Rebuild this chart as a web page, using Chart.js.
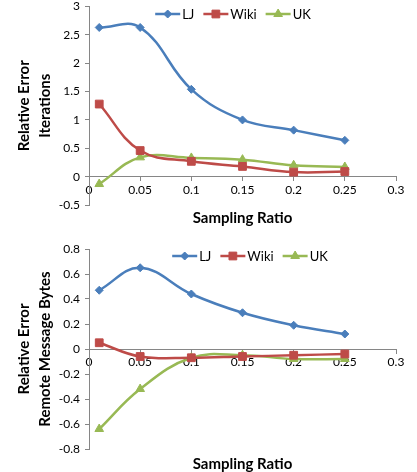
<!DOCTYPE html>
<html><head><meta charset="utf-8">
<script src="https://cdn.jsdelivr.net/npm/chart.js@4.4.1/dist/chart.umd.min.js"></script>
<style>html,body{margin:0;padding:0;background:#fff;} .c{position:relative;width:417px;height:236px;}</style>
</head><body>
<div class="c"><canvas id="c1"></canvas></div>
<div class="c"><canvas id="c2"></canvas></div>
<script>
const samplingRatios = [0.01, 0.05, 0.1, 0.15, 0.2, 0.25];
const seriesNames = ['LJ', 'Wiki', 'UK'];
const iterLJ = [2.63, 2.63, 1.54, 1.00, 0.82, 0.64];
const iterWiki = [1.28, 0.46, 0.27, 0.18, 0.08, 0.09];
const iterUK = [-0.13, 0.34, 0.33, 0.30, 0.20, 0.17];
const bytesLJ = [0.47, 0.65, 0.44, 0.29, 0.19, 0.12];
const bytesWiki = [0.05, -0.06, -0.07, -0.06, -0.05, -0.04];
const bytesUK = [-0.64, -0.32, -0.07, -0.05, -0.08, -0.08];
const xTicks = [0, 0.05, 0.1, 0.15, 0.2, 0.25, 0.3];
const xTickLabels = ['0', '0.05', '0.1', '0.15', '0.2', '0.25', '0.3'];
const yTicksTop = [-0.5, 0, 0.5, 1, 1.5, 2, 2.5, 3];
const yTickLabelsTop = ['-0.5', '0', '0.5', '1', '1.5', '2', '2.5', '3'];
const yTicksBottom = [-0.8, -0.6, -0.4, -0.2, 0, 0.2, 0.4, 0.6, 0.8];
const yTickLabelsBottom = ['-0.8', '-0.6', '-0.4', '-0.2', '0', '0.2', '0.4', '0.6', '0.8'];
const xAxisTitle = 'Sampling Ratio';

const FONT = 'Lato, "Open Sans", sans-serif';
const AXIS = '#868686';
const styles = [
  {color: '#4A7EBB', pointStyle: 'rectRot', radius: 4},
  {color: '#BE4B48', pointStyle: 'rect', radius: 5.5},
  {color: '#98B954', pointStyle: 'triangle', radius: 5}
];

const excelLegend = {
  id: 'excelLegend',
  afterDraw(chart, args, opts) {
    const ctx = chart.ctx;
    ctx.save();
    ctx.font = '13px ' + FONT;
    ctx.textBaseline = 'middle';
    const lineLen = 25, gapText = 2, gapItem = 9;
    const items = chart.data.datasets.map(ds => ({ds, w: lineLen + gapText + ctx.measureText(ds.label).width}));
    const total = items.reduce((s, i) => s + i.w, 0) + gapItem * (items.length - 1);
    let x = opts.centerX - total / 2;
    const y = opts.y;
    items.forEach(it => {
      const ds = it.ds;
      ctx.strokeStyle = ds.borderColor;
      ctx.lineWidth = ds.borderWidth;
      ctx.beginPath(); ctx.moveTo(x, y); ctx.lineTo(x + lineLen, y); ctx.stroke();
      ctx.fillStyle = ds.pointBackgroundColor;
      ctx.strokeStyle = ds.pointBorderColor;
      ctx.lineWidth = 1;
      Chart.helpers.drawPoint(ctx, {pointStyle: ds.pointStyle, radius: ds.pointRadius, rotation: 0, borderWidth: 1}, x + lineLen / 2, y);
      ctx.fillStyle = '#000';
      ctx.textAlign = 'left';
      ctx.fillText(ds.label, x + lineLen + gapText, y + 0.5);
      x += it.w + gapItem;
    });
    // x-axis title centred under the plot area
    ctx.font = 'bold 15px ' + FONT;
    ctx.textAlign = 'center';
    ctx.fillStyle = '#000';
    const ca = chart.chartArea;
    ctx.fillText(xAxisTitle, (ca.left + ca.right) / 2, opts.titleY);
    ctx.restore();
  }
};

function makeChart(id, series, yTicks, yLabels, yTitle, cfg) {
  const datasets = series.map((vals, i) => ({
    label: seriesNames[i],
    data: samplingRatios.map((x, j) => ({x, y: vals[j]})),
    borderColor: styles[i].color,
    backgroundColor: styles[i].color,
    pointBackgroundColor: styles[i].color,
    pointBorderColor: styles[i].color,
    pointStyle: styles[i].pointStyle,
    pointRadius: styles[i].radius,
    pointBorderWidth: 1,
    borderWidth: 2.5,
    tension: 0.4,
    fill: false
  }));
  return new Chart(document.getElementById(id), {
    type: 'line',
    data: {datasets},
    plugins: [excelLegend],
    options: {
      responsive: true,
      maintainAspectRatio: false,
      animation: false,
      layout: {padding: {left: 0, right: 21, top: cfg.top, bottom: cfg.bottom}},
      plugins: {
        legend: {display: false},
        tooltip: {enabled: false},
        title: {display: false},
        excelLegend: {centerX: cfg.legendX, y: cfg.legendY, titleY: cfg.titleY}
      },
      scales: {
        x: {
          type: 'linear', min: 0, max: 0.3,
          position: {y: 0},
          afterBuildTicks: s => { s.ticks = xTicks.map(v => ({value: v})); },
          afterFit: s => { s.paddingLeft = 0; s.paddingRight = 0; },
          ticks: {
            color: '#000', font: {family: FONT, size: 12}, padding: 2, maxRotation: 0,
            callback: (v) => { const k = xTicks.findIndex(t => Math.abs(t - v) < 1e-9); return k >= 0 ? xTickLabels[k] : ''; }
          },
          grid: {drawOnChartArea: false, drawTicks: true, tickLength: 4, color: AXIS},
          border: {color: AXIS, width: 1}
        },
        y: {
          type: 'linear', min: yTicks[0], max: yTicks[yTicks.length - 1],
          afterBuildTicks: s => { s.ticks = yTicks.map(v => ({value: v})); },
          afterFit: s => { s.width = 89; s.paddingTop = 0; s.paddingBottom = 0; },
          ticks: {
            color: '#000', font: {family: FONT, size: 12}, padding: 5,
            callback: (v) => { const k = yTicks.findIndex(t => Math.abs(t - v) < 1e-9); return k >= 0 ? yLabels[k] : ''; }
          },
          grid: {drawOnChartArea: false, drawTicks: true, tickLength: 4, color: AXIS},
          border: {color: AXIS, width: 1},
          title: {
            display: true, text: yTitle, color: '#000',
            font: {family: FONT, size: 15, weight: 'bold', lineHeight: 1.4},
            padding: {top: 14, bottom: 0}
          }
        }
      }
    }
  });
}

makeChart('c1', [iterLJ, iterWiki, iterUK], yTicksTop, yTickLabelsTop, ['Relative Error', 'Iterations'],
  {top: 5, bottom: 31, legendX: 233, legendY: 14, titleY: 218});
makeChart('c2', [bytesLJ, bytesWiki, bytesUK], yTicksBottom, yTickLabelsBottom, ['Relative Error', 'Remote Message Bytes'],
  {top: 13, bottom: 23, legendX: 250, legendY: 20, titleY: 228});
</script>
</body></html>
